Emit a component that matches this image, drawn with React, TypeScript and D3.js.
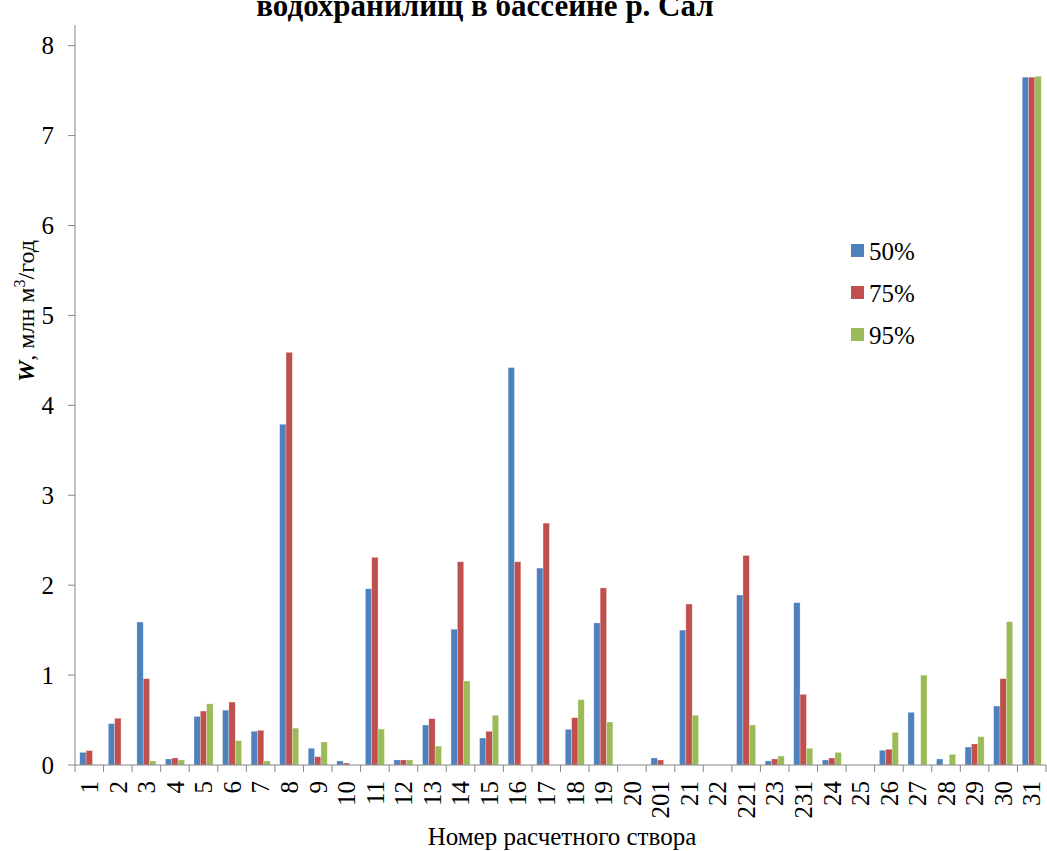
import React from "react";
import * as d3 from "d3";

const categories = ["1","2","3","4","5","6","7","8","9","10","11","12","13","14","15","16","17","18","19","20","201","21","22","221","23","231","24","25","26","27","28","29","30","31"];
const s50 = [0.14,0.46,1.59,0.067,0.54,0.61,0.375,3.79,0.186,0.045,1.96,0.056,0.445,1.51,0.30,4.42,2.19,0.397,1.58,0,0.078,1.50,0,1.89,0.045,1.805,0.056,0,0.164,0.586,0.067,0.20,0.656,7.65];
const s75 = [0.16,0.52,0.96,0.078,0.60,0.70,0.386,4.59,0.092,0.022,2.31,0.056,0.515,2.26,0.375,2.26,2.69,0.526,1.97,0,0.056,1.79,0,2.33,0.067,0.786,0.078,0,0.175,0,0,0.234,0.96,7.65];
const s95 = [0,0,0.045,0.056,0.68,0.27,0.045,0.41,0.256,0,0.40,0.056,0.21,0.934,0.553,0,0,0.727,0.478,0,0,0.553,0,0.445,0.10,0.186,0.14,0,0.364,1.0,0.119,0.315,1.594,7.66];
const seriesNames = ["50%","75%","95%"];
const colors = ["#4F81BD","#C0504D","#9BBB59"];
const yTicks = [0,1,2,3,4,5,6,7,8];

const FONT = "'Liberation Serif', 'Times New Roman', serif";

export default function App() {
  const W = 1047, H = 851;
  const x0 = 75, x1 = 1046;
  const yBase = 765, yTop = 25;
  const x = d3.scaleBand<string>().domain(categories).range([x0, x1]).paddingInner(0).paddingOuter(0);
  const inner = d3.scaleBand<string>().domain(seriesNames).range([0, x.bandwidth() * 2 / 3]);
  const groupOffset = x.bandwidth() / 6;
  const y = d3.scaleLinear().domain([0, 8.23]).range([yBase, yTop]);
  const series = [s50, s75, s95];

  return (
    <svg width={W} height={H} style={{ position: "absolute", left: 0, top: 0, background: "#fff" }} fontFamily={FONT}>
      <rect x={0} y={0} width={W} height={H} fill="#fff" />
      <text x={485} y={16} textAnchor="middle" fontSize={31} fontWeight="bold" fill="#000" fontFamily={FONT}>водохранилищ в бассейне р. Сал</text>

      {/* bars */}
      {series.map((vals, si) =>
        vals.map((v, i) =>
          v > 0 ? (
            <rect key={`${si}-${i}`}
              x={(x(categories[i]) as number) + groupOffset + (inner(seriesNames[si]) as number)}
              y={y(v)}
              width={inner.bandwidth()}
              height={yBase - y(v)}
              fill={colors[si]}
              stroke="#fff" strokeOpacity={0.45} strokeWidth={0.6}
            />
          ) : null
        )
      )}

      {/* y axis */}
      <line x1={x0} x2={x0} y1={yTop} y2={yBase} stroke="#868686" strokeWidth={1} />
      {yTicks.map(t => (
        <g key={t}>
          <line x1={x0 - 7} x2={x0} y1={y(t)} y2={y(t)} stroke="#868686" />
          <text x={54} y={y(t)} dy="0.35em" textAnchor="end" fontSize={25} fill="#000" fontFamily={FONT}>{t}</text>
        </g>
      ))}

      {/* x axis */}
      <line x1={x0} x2={x1} y1={yBase} y2={yBase} stroke="#868686" strokeWidth={1} />
      {categories.map((c, i) => (
        <line key={"t" + i} x1={x(c) as number} x2={x(c) as number} y1={yBase} y2={yBase + 7} stroke="#868686" />
      ))}
      <line x1={x1} x2={x1} y1={yBase} y2={yBase + 7} stroke="#868686" />
      {categories.map((c) => {
        const cx = (x(c) as number) + x.bandwidth() / 2;
        return (
          <text key={"l" + c} transform={`translate(${cx},${781}) rotate(-90)`} textAnchor="end" dy="0.35em" fontSize={25} fill="#000" fontFamily={FONT}>{c}</text>
        );
      })}

      <text x={562} y={845} textAnchor="middle" fontSize={25} fill="#000" fontFamily={FONT}>Номер расчетного створа</text>

      <text transform={`translate(34,311) rotate(-90)`} textAnchor="middle" fontSize={24} fill="#000" fontFamily={FONT}>
        <tspan fontStyle="italic" fontWeight="bold">W</tspan>
        <tspan>, млн м</tspan>
        <tspan fontSize={16} dy={-9}>3</tspan>
        <tspan dy={9}>/год</tspan>
      </text>

      {/* legend */}
      {seriesNames.map((n, i) => (
        <g key={n} transform={`translate(851,${251 + i * 42})`}>
          <rect x={0} y={-7} width={13} height={13} fill={colors[i]} />
          <text x={18} y={0} dy="0.35em" fontSize={25} fill="#000" fontFamily={FONT}>{n}</text>
        </g>
      ))}
    </svg>
  );
}
